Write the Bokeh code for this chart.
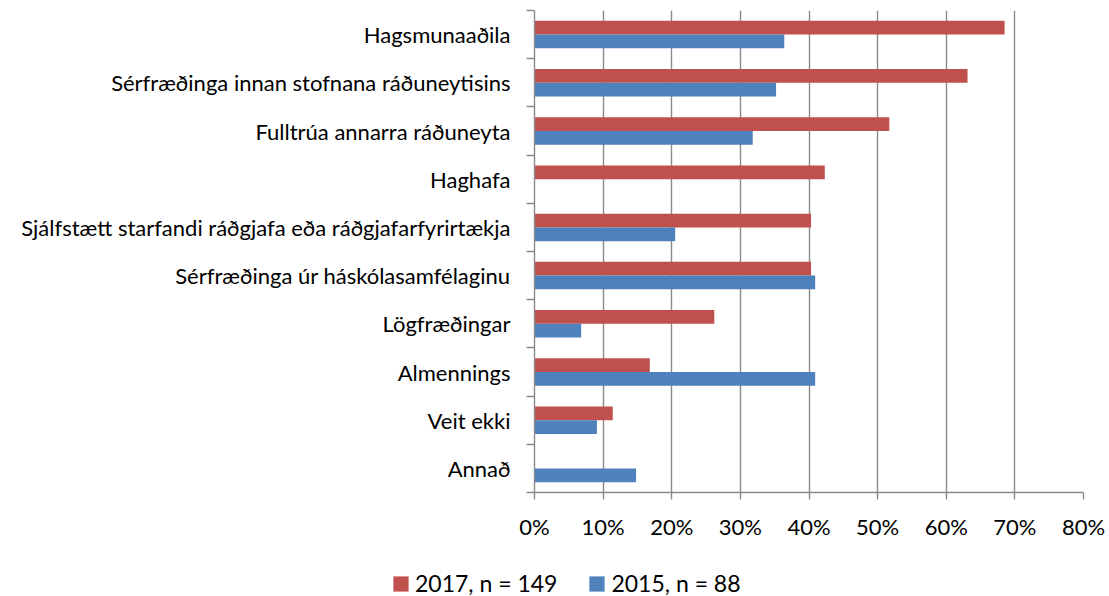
from bokeh.plotting import figure
from bokeh.models import (Range1d, FixedTicker, PrintfTickFormatter, Legend, LegendItem,
                          ColumnDataSource)
from bokeh.layouts import column
from bokeh.embed import file_html
from bokeh.resources import INLINE

categories = [
    "Hagsmunaaðila",
    "Sérfræðinga innan stofnana ráðuneytisins",
    "Fulltrúa annarra ráðuneyta",
    "Haghafa",
    "Sjálfstætt starfandi ráðgjafa eða ráðgjafarfyrirtækja",
    "Sérfræðinga úr háskólasamfélaginu",
    "Lögfræðingar",
    "Almennings",
    "Veit ekki",
    "Annað",
]
v2017 = [68.5, 63.1, 51.7, 42.3, 40.3, 40.3, 26.2, 16.8, 11.4, 0.0]
v2015 = [36.4, 35.2, 31.8, 0.0, 20.5, 40.9, 6.8, 40.9, 9.1, 14.8]
series_labels = ["2017, n = 149", "2015, n = 88"]
x_ticks = [0, 10, 20, 30, 40, 50, 60, 70, 80]

RED = "#C0504D"
BLUE = "#4F81BD"
GRID = "#8a8a8a"
FONT = "Lato"

n = len(categories)
centers = [n - 0.5 - i for i in range(n)]
bar_h = 1 / 3.5

src = ColumnDataSource(dict(
    c17=[c + bar_h / 2 for c in centers],
    c15=[c - bar_h / 2 for c in centers],
    v17=v2017,
    v15=v2015,
))

p = figure(width=1109, height=560, output_backend="svg", toolbar_location=None,
           x_range=Range1d(0, 80), y_range=Range1d(0, n),
           min_border_left=534, min_border_right=26, min_border_top=10, min_border_bottom=68)
p.outline_line_color = None
p.background_fill_color = "white"
p.border_fill_color = "white"
p.frame_align = False

r17 = p.hbar(y="c17", right="v17", left=0, height=bar_h, source=src,
             fill_color=RED, line_color=None)
r15 = p.hbar(y="c15", right="v15", left=0, height=bar_h, source=src,
             fill_color=BLUE, line_color=None)

# grids
p.ygrid.grid_line_color = None
p.xgrid.grid_line_color = GRID
p.xgrid.grid_line_width = 1.4
p.xgrid.ticker = FixedTicker(ticks=x_ticks)

# x axis
xa = p.xaxis[0]
xa.ticker = FixedTicker(ticks=x_ticks)
xa.formatter = PrintfTickFormatter(format="%d%%")
xa.axis_line_color = GRID
xa.axis_line_width = 1.4
xa.major_tick_line_color = GRID
xa.major_tick_line_width = 1.4
xa.major_tick_out = 7
xa.major_tick_in = 0
xa.minor_tick_line_color = None
xa.major_label_standoff = 13
xa.major_label_text_font = FONT
xa.major_label_text_font_size = "22px"
xa.major_label_text_color = "#000000"

# y axis
ya = p.yaxis[0]
ya.ticker = FixedTicker(ticks=centers, minor_ticks=list(range(n + 1)))
ya.major_label_overrides = {c: lab for c, lab in zip(centers, categories)}
ya.axis_line_color = GRID
ya.axis_line_width = 1.4
ya.major_tick_line_color = None
ya.major_tick_out = 0
ya.major_tick_in = 0
ya.minor_tick_line_color = GRID
ya.minor_tick_line_width = 1.4
ya.minor_tick_out = 8
ya.minor_tick_in = 0
ya.major_label_standoff = 16
ya.major_label_text_font = FONT
ya.major_label_text_font_size = "22px"
ya.major_label_text_color = "#000000"

# legend strip below the chart (its own frame spans the full width)
lg = figure(width=1109, height=36, output_backend="svg", toolbar_location=None,
            x_range=Range1d(0, 1), y_range=Range1d(0, 1),
            min_border_left=0, min_border_right=0, min_border_top=0, min_border_bottom=0,
            x_axis_type=None, y_axis_type=None)
lg.frame_align = False
lg.outline_line_color = None
lg.grid.visible = False
key_src = ColumnDataSource(dict(y=[0.5], w=[0.0]))
k17 = lg.hbar(y="y", right="w", left=0, height=1, source=key_src, fill_color=RED, line_color=None)
k15 = lg.hbar(y="y", right="w", left=0, height=1, source=key_src, fill_color=BLUE, line_color=None)

legend = Legend(items=[LegendItem(label=series_labels[0], renderers=[k17]),
                       LegendItem(label=series_labels[1], renderers=[k15])],
                orientation="horizontal", location=(391, -1),
                glyph_width=19, glyph_height=19, label_standoff=5, spacing=30,
                padding=0, margin=0, border_line_color=None, background_fill_alpha=0,
                label_text_font=FONT, label_text_font_size="23px",
                label_text_color="#000000", label_height=15)
lg.add_layout(legend, "center")

layout = column(p, lg, spacing=0)
open("out.html", "w").write(file_html(layout, INLINE))
